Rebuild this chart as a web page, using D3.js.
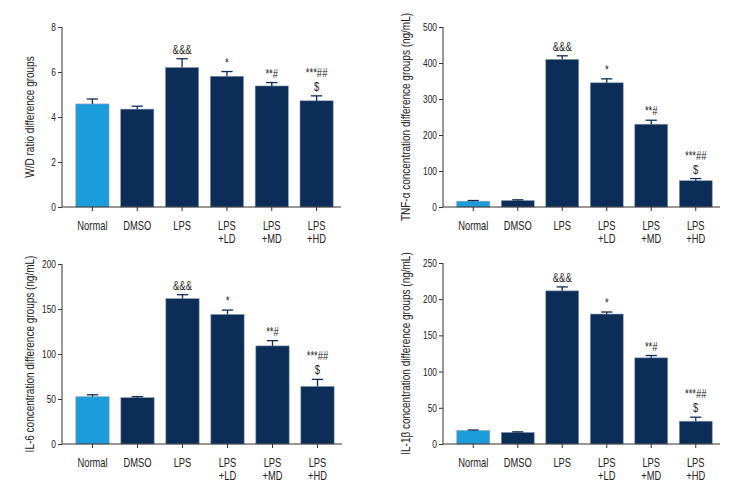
<!DOCTYPE html>
<html><head><meta charset="utf-8">
<script src="https://cdn.jsdelivr.net/npm/d3@7"></script>
<style>
body{margin:0;background:#fff;}
svg text{font-family:"Liberation Sans",Arial,sans-serif;fill:#222;}
</style></head><body>
<svg id="c" width="744" height="504"></svg>
<script>
const categories = [["Normal"],["DMSO"],["LPS"],["LPS","+LD"],["LPS","+MD"],["LPS","+HD"]];
const annotations = [[],[],["&&&"],["*"],["**#"],["***##","$"]];

const wdMeans  = [4.58, 4.35, 6.20, 5.81, 5.38, 4.72];
const wdErrors = [0.22, 0.13, 0.39, 0.21, 0.15, 0.22];
const wdTicks  = [0, 2, 4, 6, 8];

const tnfMeans  = [16, 18, 410, 345, 230, 73];
const tnfErrors = [2, 2, 10, 11, 11, 6];
const tnfTicks  = [0, 100, 200, 300, 400, 500];

const il6Means  = [52.5, 51.5, 161.5, 144, 109, 64];
const il6Errors = [2.2, 1.1, 4.4, 4.8, 5.8, 7.8];
const il6Ticks  = [0, 50, 100, 150, 200];

const il1Means  = [18.5, 16, 211.5, 179.5, 119, 31.5];
const il1Errors = [0.8, 0.8, 5.5, 2.8, 3.2, 5.5];
const il1Ticks  = [0, 50, 100, 150, 200, 250];

const titles = ["W/D ratio difference groups","TNF-α concentration difference groups (ng/mL)",
                "IL-6 concentration difference groups (ng/mL)","IL-1β concentration difference groups (ng/mL)"];

const LIGHT = "#1b9ddb", DARK = "#0b2d58";
const svg = d3.select("#c");

// condensed look: draw text at (x,y) squeezed horizontally
function ctext(parent, x, y, str, size, ratio, anchor){
  return parent.append("text")
    .attr("transform",`translate(${x},${y}) scale(${ratio},1)`)
    .attr("text-anchor",anchor||"middle").attr("font-size",size).text(str);
}

function panel(o){
  const g = svg.append("g");
  const x = d3.scaleBand().domain(d3.range(categories.length))
      .range([o.x0 + 8, o.x1 - 2]).paddingInner(0.26).paddingOuter(0.13);
  const y = d3.scaleLinear().domain([0, o.max]).range([o.yb, o.yt]);

  g.selectAll("rect.bar").data(o.means).join("rect")
    .attr("x",(d,i)=>x(i)).attr("width",x.bandwidth())
    .attr("y",d=>y(d)).attr("height",d=>y(0)-y(d))
    .attr("fill",(d,i)=>i===0?LIGHT:DARK)
    .attr("stroke","#8a9bb0").attr("stroke-width",0.6);

  const cw = x.bandwidth()*0.34;
  o.means.forEach((m,i)=>{
    const cx = x(i)+x.bandwidth()/2, top = y(m+o.errs[i]);
    g.append("line").attr("x1",cx).attr("x2",cx).attr("y1",y(m)).attr("y2",top)
      .attr("stroke",DARK).attr("stroke-width",1.3);
    g.append("line").attr("x1",cx-cw/2).attr("x2",cx+cw/2).attr("y1",top).attr("y2",top)
      .attr("stroke",DARK).attr("stroke-width",1.3);
    annotations[i].slice().reverse().forEach((t,k)=>{
      ctext(g, cx, top-5-k*14, t, 12.5, 0.76);
    });
  });

  // y axis (lines from d3 axis, labels drawn squeezed)
  const ya = g.append("g").attr("transform",`translate(${o.x0},0)`)
    .call(d3.axisLeft(y).tickValues(o.ticks).tickSize(4).tickFormat(""));
  ya.select(".domain").attr("stroke","#333").attr("d",`M0,${o.yt}V${o.yb}`);
  ya.selectAll(".tick line").attr("stroke","#333");
  o.ticks.forEach(t=>{
    ctext(g, o.x0-6, y(t)+4, String(t), 11, 0.76, "end");
  });

  const xa = g.append("g").attr("transform",`translate(0,${o.yb})`);
  xa.append("line").attr("x1",o.x0).attr("x2",o.x1).attr("stroke","#333");
  categories.forEach((c,i)=>{
    const cx = x(i)+x.bandwidth()/2;
    xa.append("line").attr("x1",cx).attr("x2",cx).attr("y1",0).attr("y2",4).attr("stroke","#333");
    c.forEach((t,k)=>{ ctext(xa, cx, 22.5+k*13.5, t, 13, 0.72); });
  });

  g.append("text").attr("transform",`translate(${o.tx},${(o.yt+o.yb)/2}) rotate(-90) scale(0.8,1)`)
    .attr("text-anchor","middle").attr("dy","0.35em").attr("font-size",12.5).text(o.title);
}

panel({x0:62, x1:341, yt:27, yb:207, max:8, ticks:wdTicks, means:wdMeans, errs:wdErrors, title:titles[0], tx:30});
panel({x0:443, x1:720, yt:27, yb:207, max:500, ticks:tnfTicks, means:tnfMeans, errs:tnfErrors, title:titles[1], tx:406});
panel({x0:62, x1:342, yt:264, yb:444, max:200, ticks:il6Ticks, means:il6Means, errs:il6Errors, title:titles[2], tx:30});
panel({x0:443, x1:720, yt:263, yb:444, max:250, ticks:il1Ticks, means:il1Means, errs:il1Errors, title:titles[3], tx:406});
</script></body></html>
